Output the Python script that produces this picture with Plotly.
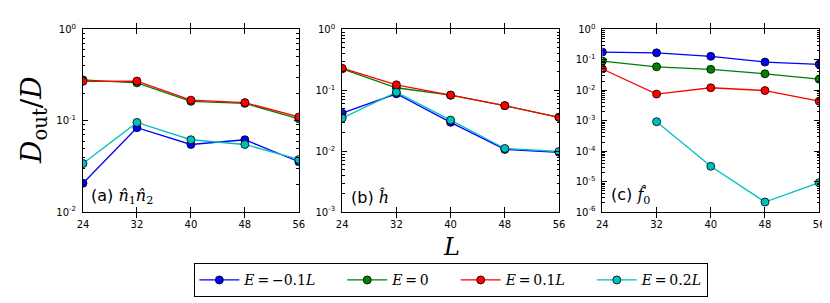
import plotly.graph_objects as go

L_vals = [24, 32, 40, 48, 56]
pad = "\u2002\u2002\u2002"
series_names = ["<i>E</i>\u2009=\u2009−0.1<i>L</i>" + pad, "<i>E</i>\u2009=\u20090" + pad,
                "<i>E</i>\u2009=\u20090.1<i>L</i>" + pad, "<i>E</i>\u2009=\u20090.2<i>L</i>"]
colors = ["#0000ff", "#008000", "#ff0000", "#00bfbf"]

# panel (a) n1 n2
a_blue = [0.0207, 0.084, 0.055, 0.062, 0.0356]
a_green = [0.28, 0.26, 0.163, 0.155, 0.105]
a_red = [0.27, 0.272, 0.168, 0.158, 0.11]
a_cyan = [0.034, 0.096, 0.062, 0.055, 0.0377]

# panel (b) h
b_blue = [0.042, 0.0877, 0.0298, 0.0107, 0.0096]
b_green = [0.225, 0.110, 0.083, 0.056, 0.036]
b_red = [0.23, 0.123, 0.0835, 0.056, 0.036]
b_cyan = [0.035, 0.093, 0.0324, 0.0111, 0.0099]

# panel (c) f0
c_blue = [0.18, 0.17, 0.130, 0.0845, 0.0714]
c_green = [0.091, 0.059, 0.0487, 0.0348, 0.0232]
c_red = [0.050, 0.0075, 0.0121, 0.0098, 0.0044]
c_cyan = [None, 9.3e-4, 3.2e-5, 2.15e-6, 9.3e-6]

panel_labels = [
    "(a) <span style='font-family:DejaVu Serif'><i>n̂</i><sub>1</sub><i>n̂</i><sub>2</sub></span>",
    "(b) <span style='font-family:DejaVu Serif'><i>ĥ</i></span>",
    "(c) <span style='font-family:DejaVu Serif'><i>f̂</i><sub>0</sub></span>",
]
y_decades = [(-2, 0), (-3, 0), (-6, 0)]
x_ticks = [24, 32, 40, 48, 56]

W, H = 830, 303
panels_px = [(70, 289), (333, 553), (597, 817)]
top_px, bot_px = 15, 206

panels = [
    [a_blue, a_green, a_red, a_cyan],
    [b_blue, b_green, b_red, b_cyan],
    [c_blue, c_green, c_red, c_cyan],
]

fig = go.Figure()
font_tick = dict(family="DejaVu Sans", size=10, color="black")

for p, data in enumerate(panels):
    xa = "x" if p == 0 else f"x{p+1}"
    ya = "y" if p == 0 else f"y{p+1}"
    ym = f"y{p+4}"
    for s, vals in enumerate(data):
        fig.add_trace(go.Scatter(
            x=L_vals, y=vals, xaxis=xa, yaxis=ya,
            mode="lines+markers",
            name=series_names[s], legendgroup=str(s), showlegend=(p == 0),
            line=dict(color=colors[s], width=1.3),
            marker=dict(color=colors[s], size=8, line=dict(color="black", width=0.8)),
            cliponaxis=True,
        ))
    # invisible trace to carry the minor-tick axis
    fig.add_trace(go.Scatter(x=L_vals, y=data[0], xaxis=xa, yaxis=ym, mode="lines",
                             opacity=0, showlegend=False, hoverinfo="skip"))
    x0, x1 = panels_px[p]
    lo, hi = y_decades[p]
    tv = [10 ** k for k in range(lo, hi + 1)]
    tt = [f"10<sup>{k}</sup>" for k in range(lo, hi + 1)]
    minor_tv = [m * 10 ** k for k in range(lo, hi) for m in range(2, 10)]
    xkey = "xaxis" if p == 0 else f"xaxis{p+1}"
    ykey = "yaxis" if p == 0 else f"yaxis{p+1}"
    dom_y = [1 - bot_px / H, 1 - top_px / H]
    fig.layout[xkey] = dict(
        domain=[x0 / W, x1 / W], anchor=ya, range=[24, 56],
        tickvals=x_ticks, ticktext=[str(v) for v in x_ticks],
        ticks="inside", ticklen=5, tickcolor="black", mirror="allticks",
        showline=True, linecolor="black", linewidth=1, showgrid=False, zeroline=False,
        tickfont=font_tick, ticklabelstandoff=3,
    )
    fig.layout[ykey] = dict(
        domain=dom_y, anchor=xa, type="log",
        range=[lo, hi], tickvals=tv, ticktext=tt,
        ticks="inside", ticklen=5, tickcolor="black", mirror="allticks",
        showline=True, linecolor="black", linewidth=1, showgrid=False, zeroline=False,
        tickfont=font_tick, ticklabelstandoff=4,
    )
    fig.layout[f"yaxis{p+4}"] = dict(
        domain=dom_y, anchor=xa, overlaying=ya, type="log",
        range=[lo, hi], tickvals=minor_tv, showticklabels=False,
        ticks="inside", ticklen=2.5, tickcolor="black", tickwidth=0.8, mirror="allticks",
        showline=False, showgrid=False, zeroline=False,
    )
    fig.add_annotation(
        text=panel_labels[p], xref=f"{xa} domain", yref=f"{ya} domain",
        x=0.03, y=0.02, xanchor="left", yanchor="bottom", showarrow=False,
        font=dict(family="DejaVu Sans", size=16, color="black"),
    )

fig.add_annotation(
    text="<i>D</i><sub>out</sub>/<i>D</i>", xref="paper", yref="paper",
    x=20 / W, y=1 - 110 / H, textangle=-90, showarrow=False,
    xanchor="center", yanchor="middle",
    font=dict(family="DejaVu Serif", size=28, color="black"),
)
fig.add_annotation(
    text="<i>L</i>", xref="paper", yref="paper",
    x=444 / W, y=1 - 242 / H, showarrow=False,
    xanchor="center", yanchor="middle",
    font=dict(family="DejaVu Serif", size=24, color="black"),
)

fig.update_layout(
    width=W, height=H, margin=dict(l=0, r=0, t=0, b=0),
    paper_bgcolor="white", plot_bgcolor="white",
    legend=dict(
        orientation="h", x=183 / W, y=1 - 295 / H, xanchor="left", yanchor="bottom",
        bordercolor="black", borderwidth=1, bgcolor="white",
        font=dict(family="DejaVu Serif", size=14, color="black"),
        itemwidth=40, tracegroupgap=0,
    ),
)

fig.write_html("out.html")
